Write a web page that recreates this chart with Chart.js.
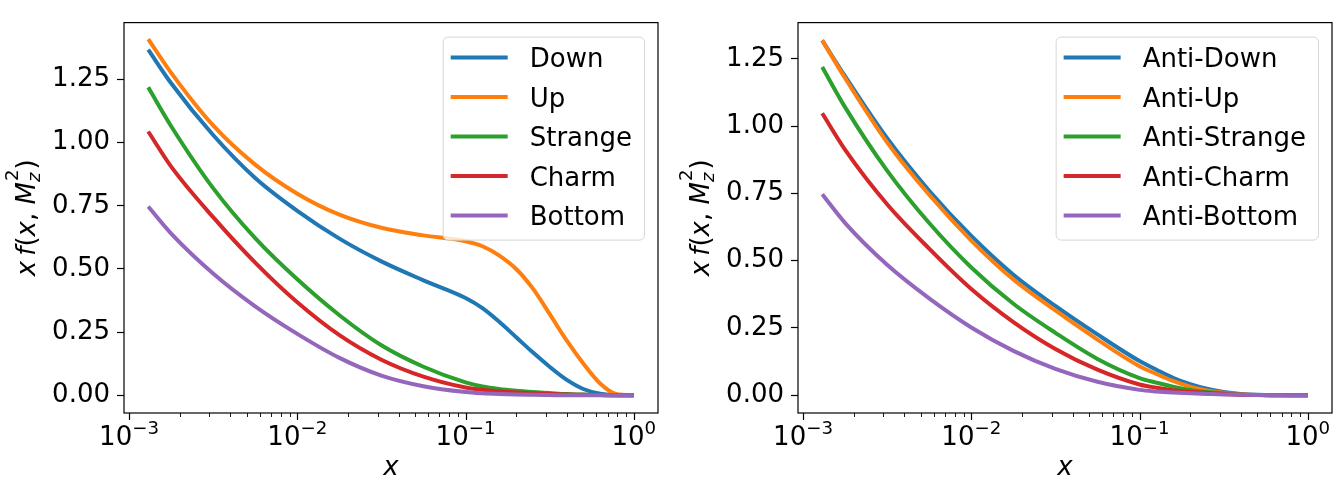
<!DOCTYPE html>
<html>
<head>
<meta charset="utf-8">
<script src="https://cdn.jsdelivr.net/npm/chart.js@4"></script>
<style>
  body { margin: 0; background: #fff; }
  #wrap { position: relative; width: 1335px; height: 477px; }
  canvas { position: absolute; top: 0; }
</style>
</head>
<body>
<div id="wrap">
  <canvas id="quarks" width="667" height="477" style="left:0"></canvas>
  <canvas id="antiquarks" width="668" height="477" style="left:667px"></canvas>
</div>
<script>
// x grid shared by every curve
const xValues = [0.0013, 0.00178, 0.00316, 0.00562, 0.01, 0.0178, 0.0316, 0.0562, 0.1,
  0.126, 0.158, 0.2, 0.251, 0.316, 0.398, 0.501, 0.631, 0.794, 1.0];

const yTickValues = [0, 0.25, 0.5, 0.75, 1.0, 1.25];
const xTickExponents = [-3, -2, -1, 0];

const quarkLabels = ["Down", "Up", "Strange", "Charm", "Bottom"];
const down    = [1.368, 1.235, 1.030, 0.860, 0.730, 0.620, 0.530, 0.455, 0.385, 0.345, 0.292, 0.230, 0.170, 0.113, 0.062, 0.025, 0.006, 0.0, 0.0];
const up      = [1.410, 1.276, 1.068, 0.913, 0.798, 0.715, 0.663, 0.633, 0.610, 0.590, 0.554, 0.500, 0.423, 0.322, 0.218, 0.126, 0.047, 0.004, 0.0];
const strange = [1.219, 1.065, 0.820, 0.622, 0.459, 0.317, 0.198, 0.113, 0.051, 0.035, 0.025, 0.018, 0.013, 0.009, 0.005, 0.003, 0.001, 0.0, 0.0];
const charm   = [1.044, 0.905, 0.705, 0.525, 0.368, 0.238, 0.141, 0.074, 0.031, 0.022, 0.016, 0.011, 0.008, 0.005, 0.003, 0.002, 0.001, 0.0, 0.0];
const bottom  = [0.747, 0.640, 0.482, 0.352, 0.243, 0.148, 0.078, 0.036, 0.013, 0.008, 0.005, 0.003, 0.002, 0.001, 0.0, 0.0, 0.0, 0.0, 0.0];

const antiLabels = ["Anti-Down", "Anti-Up", "Anti-Strange", "Anti-Charm", "Anti-Bottom"];
const antiDown    = [1.319, 1.185, 0.955, 0.760, 0.592, 0.448, 0.332, 0.226, 0.127, 0.095, 0.065, 0.041, 0.024, 0.012, 0.005, 0.002, 0.001, 0.0, 0.0];
const antiUp      = [1.319, 1.178, 0.940, 0.745, 0.575, 0.430, 0.315, 0.207, 0.108, 0.079, 0.053, 0.032, 0.018, 0.009, 0.004, 0.001, 0.0, 0.0, 0.0];
const antiStrange = [1.220, 1.070, 0.835, 0.640, 0.475, 0.340, 0.232, 0.135, 0.064, 0.047, 0.032, 0.020, 0.012, 0.007, 0.003, 0.001, 0.0, 0.0, 0.0];
const antiCharm   = [1.048, 0.912, 0.710, 0.545, 0.395, 0.272, 0.172, 0.095, 0.040, 0.028, 0.019, 0.013, 0.009, 0.005, 0.002, 0.001, 0.0, 0.0, 0.0];
const antiBottom  = [0.747, 0.640, 0.485, 0.360, 0.252, 0.165, 0.098, 0.050, 0.020, 0.014, 0.010, 0.007, 0.005, 0.003, 0.002, 0.001, 0.0, 0.0, 0.0];

const colors = ["#1f77b4", "#ff7f0e", "#2ca02c", "#d62728", "#9467bd"];
const FONT = "DejaVu Sans";
const FS = 26;

Chart.defaults.font.family = FONT;
Chart.defaults.color = "#000";

function buildDatasets(labels, series) {
  return series.map(function (values, i) {
    return {
      label: labels[i],
      data: xValues.map(function (x, j) { return { x: x, y: values[j] }; }),
      borderColor: colors[i],
      backgroundColor: colors[i],
      borderWidth: 4,
      pointRadius: 0,
      cubicInterpolationMode: "monotone",
      borderCapStyle: "butt",
      borderJoinStyle: "round",
      fill: false,
      order: series.length - i, // later series on top, like matplotlib
    };
  });
}

// frame, log ticks, axis titles and the in-plot legend
const decorations = {
  id: "decorations",
  afterDraw: function (chart) {
    const ctx = chart.ctx;
    const area = chart.chartArea;
    const xScale = chart.scales.x;
    ctx.save();

    ctx.strokeStyle = "#000";
    ctx.lineWidth = 1.2;
    ctx.strokeRect(area.left, area.top, area.right - area.left, area.bottom - area.top);

    // x ticks: majors at decades, minors in between
    for (let e = -4; e <= 0; e++) {
      for (let m = 1; m <= 9; m++) {
        const v = m * Math.pow(10, e);
        if (v < xScale.min || v > xScale.max) continue;
        const px = Math.round(xScale.getPixelForValue(v)) + 0.5;
        ctx.lineWidth = m === 1 ? 1.2 : 0.9;
        ctx.beginPath();
        ctx.moveTo(px, area.bottom);
        ctx.lineTo(px, area.bottom + (m === 1 ? 7 : 4));
        ctx.stroke();
      }
    }

    ctx.fillStyle = "#000";
    ctx.textBaseline = "alphabetic";
    ctx.textAlign = "left";
    xTickExponents.forEach(function (e) {
      const px = xScale.getPixelForValue(Math.pow(10, e));
      const sup = e < 0 ? "\u2212" + Math.abs(e) : String(e);
      ctx.font = FS + "px " + FONT;
      const wb = ctx.measureText("10").width;
      ctx.font = (FS * 0.7) + "px " + FONT;
      const ws = ctx.measureText(sup).width;
      const start = px - (wb + ws) / 2;
      ctx.font = FS + "px " + FONT;
      ctx.fillText("10", start, area.bottom + 32);
      ctx.font = (FS * 0.7) + "px " + FONT;
      ctx.fillText(sup, start + wb, area.bottom + 21);
    });

    // x title
    ctx.font = "italic " + FS + "px " + FONT;
    ctx.textAlign = "center";
    ctx.fillText("x", (area.left + area.right) / 2, area.bottom + 62);

    // y title: x f(x, M_z^2)
    const reg = FS + "px " + FONT;
    const ita = "italic " + FS + "px " + FONT;
    const small = (FS * 0.7) + "px " + FONT;
    const smallIta = "italic " + (FS * 0.7) + "px " + FONT;
    const pieces = [
      ["x", ita], ["\u2009", reg], ["f", ita], ["(", reg], ["x", ita], [",", reg], [" ", reg], ["M", ita]
    ];
    let total = 0;
    pieces.forEach(function (p) { ctx.font = p[1]; total += ctx.measureText(p[0]).width; });
    ctx.font = small; const w2 = ctx.measureText("2").width;
    ctx.font = smallIta; const wz = ctx.measureText("z").width;
    const wScript = Math.max(w2, wz) + 1;
    ctx.font = reg; const wClose = ctx.measureText(")").width;
    total += wScript + wClose;

    ctx.translate(area.left - 89, (area.top + area.bottom) / 2);
    ctx.rotate(-Math.PI / 2);
    ctx.textAlign = "left";
    let cx = -total / 2;
    pieces.forEach(function (p) {
      ctx.font = p[1];
      ctx.fillText(p[0], cx, 0);
      cx += ctx.measureText(p[0]).width;
    });
    ctx.font = small; ctx.fillText("2", cx + 1, -17);
    ctx.font = smallIta; ctx.fillText("z", cx, 5);
    cx += wScript;
    ctx.font = reg; ctx.fillText(")", cx, 0);
    ctx.setTransform(1, 0, 0, 1, 0, 0);

    // legend, upper right inside the axes
    ctx.font = FS + "px " + FONT;
    const labels = chart.data.datasets.map(function (d) { return d.label; });
    let maxW = 0;
    labels.forEach(function (l) { maxW = Math.max(maxW, ctx.measureText(l).width); });
    const boxW = 87 + maxW + 12;
    const boxH = 203;
    const boxRight = area.right - 14;
    const boxTop = area.top + 14;
    const boxLeft = boxRight - boxW;
    ctx.beginPath();
    ctx.roundRect(boxLeft + 0.5, boxTop + 0.5, boxW, boxH, 5);
    ctx.fillStyle = "rgba(255,255,255,0.8)";
    ctx.fill();
    ctx.strokeStyle = "#d6d6d6";
    ctx.lineWidth = 1;
    ctx.stroke();

    chart.data.datasets.forEach(function (d, i) {
      const rowY = boxTop + 21 + i * 39.5;
      ctx.strokeStyle = d.borderColor;
      ctx.lineWidth = 4;
      ctx.beginPath();
      ctx.moveTo(boxLeft + 8, rowY);
      ctx.lineTo(boxLeft + 65, rowY);
      ctx.stroke();
      ctx.fillStyle = "#000";
      ctx.textAlign = "left";
      ctx.textBaseline = "alphabetic";
      ctx.fillText(d.label, boxLeft + 87, rowY + 9.5);
    });

    ctx.restore();
  },
};

function buildOptions(yMin, yMax, axisWidth, padRight) {
  return {
    responsive: false,
    animation: false,
    events: [],
    layout: { padding: { top: 15, right: padRight, left: 0, bottom: 0 } },
    plugins: { legend: { display: false }, tooltip: { enabled: false } },
    scales: {
      x: {
        type: "logarithmic",
        min: Math.pow(10, -3.03),
        max: Math.pow(10, 0.144),
        grid: { display: false },
        border: { display: false },
        ticks: { display: false },
        afterFit: function (scale) { scale.height = 64; },
      },
      y: {
        min: yMin,
        max: yMax,
        afterBuildTicks: function (scale) {
          scale.ticks = yTickValues.map(function (v) { return { value: v }; });
        },
        ticks: {
          font: { size: FS },
          color: "#000",
          padding: 7,
          callback: function (v) { return Number(v).toFixed(2); },
        },
        grid: { drawOnChartArea: false, tickLength: 7, tickColor: "#000", tickWidth: 1.2 },
        border: { display: false },
        afterFit: function (scale) { scale.width = axisWidth; },
      },
    },
  };
}

new Chart(document.getElementById("quarks").getContext("2d"), {
  type: "line",
  data: { datasets: buildDatasets(quarkLabels, [down, up, strange, charm, bottom]) },
  options: buildOptions(-0.07, 1.475, 124, 9),
  plugins: [decorations],
});

new Chart(document.getElementById("antiquarks").getContext("2d"), {
  type: "line",
  data: { datasets: buildDatasets(antiLabels, [antiDown, antiUp, antiStrange, antiCharm, antiBottom]) },
  options: buildOptions(-0.066, 1.385, 131, 3),
  plugins: [decorations],
});
</script>
</body>
</html>
